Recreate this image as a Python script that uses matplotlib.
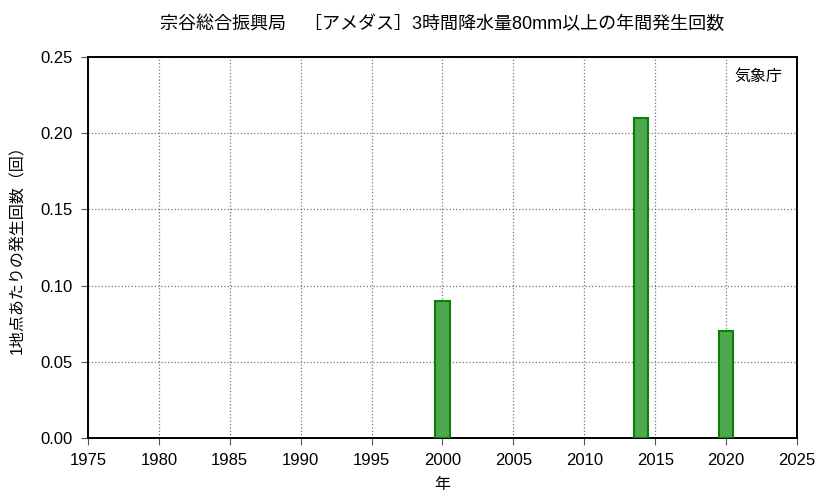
import matplotlib
matplotlib.use('Agg')
import matplotlib.pyplot as plt

plt.rcParams['font.family'] = ['Liberation Sans', 'Noto Sans CJK JP', 'DejaVu Sans']

years = [2000, 2014, 2020]
counts = [0.09, 0.21, 0.07]
xticks = list(range(1975, 2026, 5))
yticks = [0.00, 0.05, 0.10, 0.15, 0.20, 0.25]

title = '宗谷総合振興局　［アメダス］3時間降水量80mm以上の年間発生回数'
ylabel = '1地点あたりの発生回数（回）'
xlabel = '年'
source = '気象庁'

fig = plt.figure(figsize=(8.33, 4.98), dpi=100)
ax = fig.add_axes([0.1056, 0.1205, 0.8512, 0.765])

ax.bar(years, counts, width=1.0, color='#4ea84e', edgecolor='#0a800a', linewidth=1.5, zorder=3)

ax.set_xlim(1975, 2025)
ax.set_ylim(0, 0.25)
ax.set_xticks(xticks)
ax.set_yticks(yticks)
ax.set_yticklabels(['%.2f' % v for v in yticks])
ax.tick_params(direction='out', length=5, labelsize=12, pad=6, color='#555555')
ax.grid(True, linestyle=':', color='#777777', linewidth=0.9, zorder=0)
for s in ax.spines.values():
    s.set_linewidth(1.4)
    s.set_color('black')

ax.set_title(title, fontsize=13, pad=20)
ax.set_ylabel(ylabel, fontsize=11.5)
ax.yaxis.set_label_coords(-0.088, 0.505)
ax.set_xlabel(xlabel, fontsize=11.5, labelpad=6)
ax.text(0.98, 0.95, source, transform=ax.transAxes, ha='right', va='center', fontsize=11.5)

fig.savefig('out.png', dpi=100)
